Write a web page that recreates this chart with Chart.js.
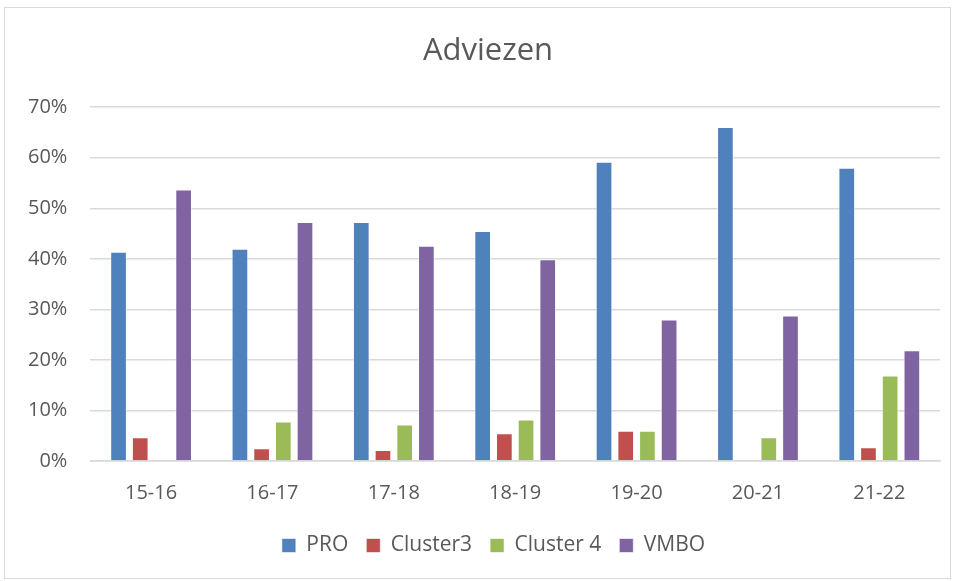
<!DOCTYPE html>
<html>
<head>
<meta charset="utf-8">
<script src="https://cdn.jsdelivr.net/npm/chart.js@4/dist/chart.umd.min.js"></script>
<style>
  html, body { margin: 0; padding: 0; background: #fff; }
  #wrap {
    position: absolute; left: 4px; top: 7px;
    width: 945px; height: 570px;
    border: 1px solid #d9d9d9;
    background: #fff;
  }
</style>
</head>
<body>
<div id="wrap"><canvas id="chart"></canvas></div>
<script>
// schooljaren
const labels = ["15-16", "16-17", "17-18", "18-19", "19-20", "20-21", "21-22"];

// percentages per advies
const pro = [41.4, 42.0, 47.3, 45.5, 59.2, 66.1, 58.0];
const cluster3 = [4.7, 2.5, 2.2, 5.5, 6.0, null, 2.7];
const cluster4 = [null, 7.8, 7.2, 8.2, 6.0, 4.7, 16.9];
const vmbo = [53.7, 47.3, 42.6, 39.9, 28.0, 28.8, 21.9];

const yTicks = [0, 10, 20, 30, 40, 50, 60, 70];

const font = "'Open Sans', 'Liberation Sans', sans-serif";
const textColor = "#595959";

// titel en legenda iets naar rechts, zoals in Excel (gecentreerd op het hele kader)
const blockShift = {
  id: "blockShift",
  afterLayout(chart) {
    const t = chart.titleBlock;
    if (t) t.left = t.left + 31;
    const l = chart.legend;
    if (l) l.left = l.left + 42;
  },
};

const ctx = document.getElementById("chart").getContext("2d");
new Chart(ctx, {
  type: "bar",
  data: {
    labels: labels,
    datasets: [
      { label: "PRO", data: pro, backgroundColor: "#4f81bd" },
      { label: "Cluster3", data: cluster3, backgroundColor: "#c0504d" },
      { label: "Cluster 4", data: cluster4, backgroundColor: "#9bbb59" },
      { label: "VMBO", data: vmbo, backgroundColor: "#8064a2" },
    ],
  },
  plugins: [blockShift],
  options: {
    responsive: true,
    maintainAspectRatio: false,
    animation: false,
    datasets: {
      bar: {
        barPercentage: 0.77,
        categoryPercentage: 0.715,
        borderColor: "rgba(255,255,255,0.6)",
        borderWidth: 1,
      },
    },
    layout: {
      padding: { left: 0, right: 10, top: 6, bottom: 12 },
    },
    plugins: {
      title: {
        display: true,
        text: "Adviezen",
        color: textColor,
        font: { family: font, size: 31, weight: "normal" },
        padding: { top: 19, bottom: 37 },
      },
      legend: {
        position: "bottom",
        labels: {
          color: textColor,
          font: { family: font, size: 21 },
          boxWidth: 14,
          boxHeight: 14,
          padding: 18,
        },
      },
      tooltip: { enabled: false },
    },
    scales: {
      x: {
        grid: { display: false },
        border: { color: "#d9d9d9", width: 1.5 },
        ticks: {
          color: textColor,
          font: { family: font, size: 20 },
          padding: 12,
        },
      },
      y: {
        min: 0,
        max: 70,
        afterBuildTicks: (axis) => {
          axis.ticks = yTicks.map((v) => ({ value: v }));
        },
        grid: { color: "#d9d9d9", lineWidth: 1.5, drawTicks: false },
        border: { display: false },
        ticks: {
          color: textColor,
          font: { family: font, size: 20 },
          padding: 23,
          callback: (v) => v + "%",
        },
      },
    },
  },
});
</script>
</body>
</html>
